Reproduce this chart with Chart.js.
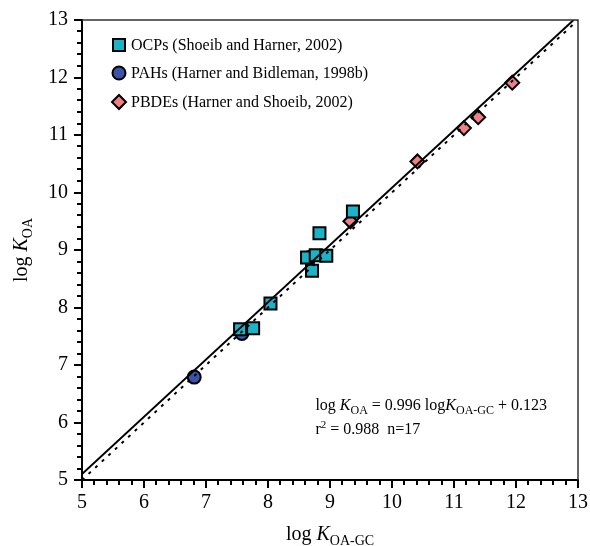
<!DOCTYPE html>
<html>
<head>
<meta charset="utf-8">
<script src="https://cdn.jsdelivr.net/npm/chart.js@4.4.1/dist/chart.umd.min.js"></script>
<style>
  html, body { margin: 0; padding: 0; background: #fff; }
  #wrap { width: 590px; height: 546px; }
</style>
</head>
<body>
<div id="wrap"><canvas id="c" width="590" height="546"></canvas></div>
<script>
// measured log KOA-GC (x) vs literature log KOA (y)
const ocpX = [9.37, 8.83, 8.63, 8.77, 8.94, 8.71, 8.04, 7.55, 7.76];
const ocpY = [9.67, 9.29, 8.87, 8.91, 8.90, 8.64, 8.07, 7.62, 7.64];
const pahX = [8.67, 7.58, 6.81];
const pahY = [8.87, 7.55, 6.79];
const pbdeX = [11.94, 11.39, 11.16, 10.41, 9.33];
const pbdeY = [11.91, 11.31, 11.12, 10.54, 9.50];

// regression line end points (log KOA = 0.996 logKOA-GC + 0.123) and 1:1 line
const fitX = [5, 13];
const fitY = [5.103, 13.071];
const oneX = [5, 13];
const oneY = [5, 13];

const axisMin = 5;
const axisMax = 13;

const SERIF = '"Liberation Serif", "Times New Roman", serif';
const OCP_COLOR = '#1bb3c8';
const PAH_COLOR = '#3b54a8';
const PBDE_COLOR = '#ef8087';

const toPts = (xs, ys) => xs.map((x, i) => ({ x: x, y: ys[i] }));

// draw a row of text pieces with different fonts / baselines, returns start x
function drawRuns(ctx, runs, x, y, align) {
  let w = 0;
  runs.forEach((r) => { ctx.font = r.font; w += ctx.measureText(r.t).width; });
  const start = align === 'center' ? x - w / 2 : (align === 'right' ? x - w : x);
  let cx = start;
  ctx.textAlign = 'left';
  ctx.textBaseline = 'alphabetic';
  runs.forEach((r) => {
    ctx.font = r.font;
    ctx.fillText(r.t, cx, y + (r.dy || 0));
    cx += ctx.measureText(r.t).width;
  });
  return start;
}

const decor = {
  id: 'decor',
  afterDraw(chart) {
    const ctx = chart.ctx;
    const a = chart.chartArea;
    const xs = chart.scales.x;
    const ys = chart.scales.y;
    ctx.save();
    ctx.fillStyle = '#000';

    // box
    ctx.lineWidth = 1.5;
    ctx.strokeStyle = '#333';
    ctx.beginPath();
    ctx.moveTo(a.left, a.top);
    ctx.lineTo(a.right, a.top);
    ctx.lineTo(a.right, a.bottom);
    ctx.stroke();

    // ticks, major every 1 and minor every 0.2
    ctx.strokeStyle = '#000';
    ctx.lineWidth = 2;
    ctx.beginPath();
    for (let i = 0; i <= (axisMax - axisMin) * 5; i++) {
      const v = axisMin + i * 0.2;
      const len = i % 5 === 0 ? 8 : 5;
      const px = Math.round(xs.getPixelForValue(v));
      ctx.moveTo(px, a.bottom);
      ctx.lineTo(px, a.bottom + len);
      const py = Math.round(ys.getPixelForValue(v));
      ctx.moveTo(a.left, py);
      ctx.lineTo(a.left - len, py);
    }
    ctx.stroke();

    // axis titles
    drawRuns(ctx, [
      { t: 'log ', font: '20px ' + SERIF },
      { t: 'K', font: 'italic 20px ' + SERIF },
      { t: 'OA-GC', font: '14px ' + SERIF, dy: 5 }
    ], (a.left + a.right) / 2, 540, 'center');

    ctx.save();
    ctx.translate(27, (a.top + a.bottom) / 2);
    ctx.rotate(-Math.PI / 2);
    drawRuns(ctx, [
      { t: 'log ', font: '20px ' + SERIF },
      { t: 'K', font: 'italic 20px ' + SERIF },
      { t: 'OA', font: '14px ' + SERIF, dy: 5 }
    ], 0, 0, 'center');
    ctx.restore();

    // legend
    const lx = 119;
    const rows = [
      { y: 45, label: 'OCPs (Shoeib and Harner, 2002)', shape: 'rect', color: OCP_COLOR },
      { y: 73, label: 'PAHs (Harner and Bidleman, 1998b)', shape: 'circle', color: PAH_COLOR },
      { y: 102, label: 'PBDEs (Harner and Shoeib, 2002)', shape: 'diamond', color: PBDE_COLOR }
    ];
    rows.forEach((r) => {
      ctx.beginPath();
      if (r.shape === 'rect') ctx.rect(lx - 6, r.y - 6, 12, 12);
      else if (r.shape === 'circle') ctx.arc(lx, r.y, 6.5, 0, Math.PI * 2);
      else {
        ctx.moveTo(lx, r.y - 7);
        ctx.lineTo(lx + 7, r.y);
        ctx.lineTo(lx, r.y + 7);
        ctx.lineTo(lx - 7, r.y);
        ctx.closePath();
      }
      ctx.fillStyle = r.color;
      ctx.fill();
      ctx.lineWidth = 2;
      ctx.strokeStyle = '#000';
      ctx.stroke();
      ctx.fillStyle = '#000';
      drawRuns(ctx, [{ t: r.label, font: '16px ' + SERIF }], 131, r.y + 5, 'left');
    });

    // regression equation
    const ex = drawRuns(ctx, [
      { t: 'log ', font: '16px ' + SERIF },
      { t: 'K', font: 'italic 16px ' + SERIF },
      { t: 'OA', font: '12px ' + SERIF, dy: 4 },
      { t: ' = 0.996 log', font: '16px ' + SERIF },
      { t: 'K', font: 'italic 16px ' + SERIF },
      { t: 'OA-GC', font: '12px ' + SERIF, dy: 4 },
      { t: ' + 0.123', font: '16px ' + SERIF }
    ], 547, 410, 'right');
    drawRuns(ctx, [
      { t: 'r', font: '16px ' + SERIF },
      { t: '2', font: '11px ' + SERIF, dy: -6 },
      { t: ' = 0.988  n=17', font: '16px ' + SERIF }
    ], ex, 434, 'left');

    ctx.restore();
  }
};

new Chart(document.getElementById('c'), {
  type: 'scatter',
  data: {
    datasets: [
      {
        type: 'line',
        data: toPts(oneX, oneY),
        borderColor: '#000',
        borderWidth: 2,
        borderDash: [3, 6],
        pointRadius: 0,
        fill: false
      },
      {
        type: 'line',
        data: toPts(fitX, fitY),
        borderColor: '#000',
        borderWidth: 2,
        pointRadius: 0,
        fill: false
      },
      {
        label: 'OCPs (Shoeib and Harner, 2002)',
        data: toPts(ocpX, ocpY),
        pointStyle: 'rect',
        pointRadius: 8.5,
        backgroundColor: OCP_COLOR,
        borderColor: '#000',
        borderWidth: 2
      },
      {
        label: 'PAHs (Harner and Bidleman, 1998b)',
        data: toPts(pahX, pahY),
        pointStyle: 'circle',
        pointRadius: 6.5,
        backgroundColor: PAH_COLOR,
        borderColor: '#000',
        borderWidth: 2
      },
      {
        label: 'PBDEs (Harner and Shoeib, 2002)',
        data: toPts(pbdeX, pbdeY),
        pointStyle: 'rectRot',
        pointRadius: 7,
        backgroundColor: PBDE_COLOR,
        borderColor: '#000',
        borderWidth: 2
      }
    ]
  },
  options: {
    responsive: false,
    animation: false,
    layout: { padding: { left: 0, top: 20, right: 12, bottom: 0 } },
    plugins: { legend: { display: false }, tooltip: { enabled: false } },
    scales: {
      x: {
        type: 'linear',
        min: axisMin,
        max: axisMax,
        afterFit: (s) => { s.height = 66; s.paddingLeft = 0; s.paddingRight = 0; },
        grid: { display: false, drawTicks: false, tickLength: 0 },
        border: { display: true, color: '#000', width: 2 },
        ticks: { stepSize: 1, color: '#000', padding: 11, font: { family: SERIF, size: 20 } }
      },
      y: {
        type: 'linear',
        min: axisMin,
        max: axisMax,
        afterFit: (s) => { s.width = 82; s.paddingTop = 0; s.paddingBottom = 0; },
        grid: { display: false, drawTicks: false, tickLength: 0 },
        border: { display: true, color: '#000', width: 2 },
        ticks: { stepSize: 1, color: '#000', padding: 14, font: { family: SERIF, size: 20 } }
      }
    }
  },
  plugins: [decor]
});
</script>
</body>
</html>
